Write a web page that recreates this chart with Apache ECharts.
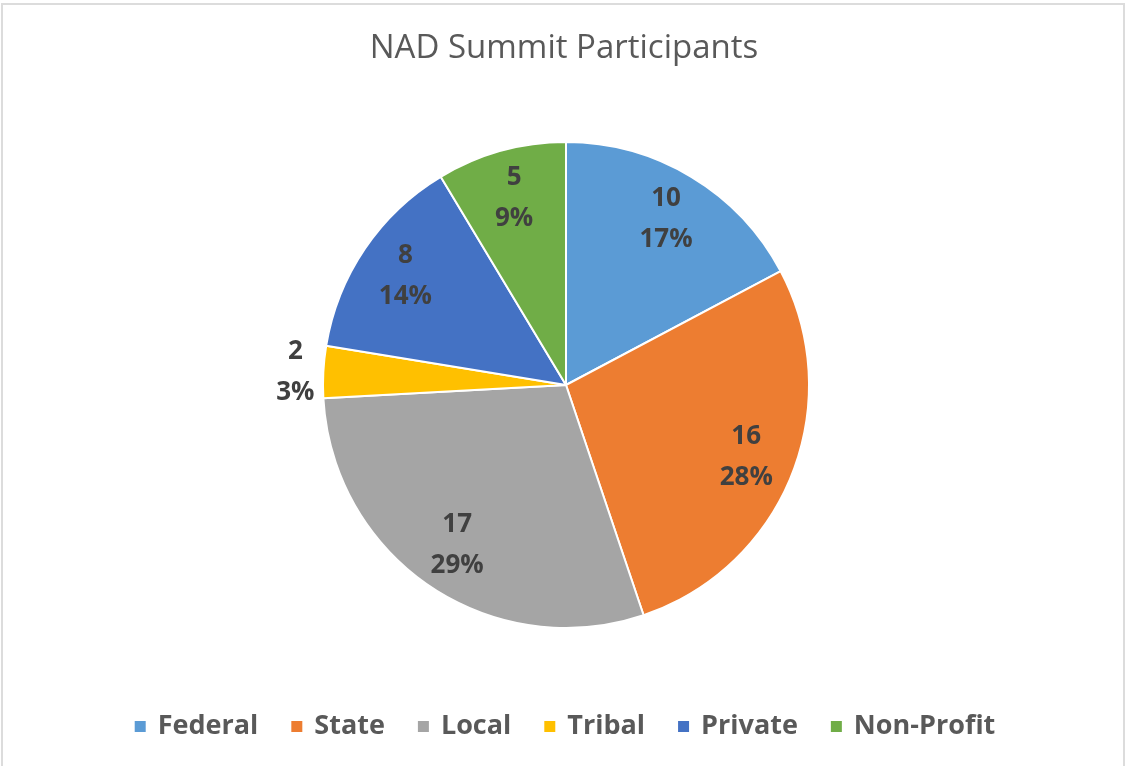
<!DOCTYPE html>
<html>
<head>
<meta charset="utf-8">
<script src="https://cdn.jsdelivr.net/npm/echarts@6/dist/echarts.min.js"></script>
<style>
html,body{margin:0;padding:0;background:#fff;}
#frame{position:absolute;left:1px;top:3px;width:1124px;height:780px;border:2px solid #dcdcdc;box-sizing:border-box;}
#chart{position:absolute;left:0;top:0;width:1128px;height:766px;}
</style>
</head>
<body>
<div id="frame"></div>
<div id="chart"></div>
<script>
const title = 'NAD Summit Participants';
const categories = ['Federal', 'State', 'Local', 'Tribal', 'Private', 'Non-Profit'];
const values = [10, 16, 17, 2, 8, 5];
const colors = ['#5B9BD5', '#ED7D31', '#A5A5A5', '#FFC000', '#4472C4', '#70AD47'];

const total = values.reduce((a, b) => a + b, 0);
const FONT = '"Open Sans", "Noto Sans", sans-serif';

const mainData = categories.map((c, i) => ({
  name: c, value: values[i], itemStyle: { color: colors[i] }
}));

const labelData = categories.map((c, i) => {
  const item = { name: c, value: values[i] };
  if (c === 'Tribal') {
    item.label = {
      position: 'outside',
      formatter: p => '{c|' + p.value + '}\n{c|' + Math.round(p.value / total * 100) + '%}',
      rich: { c: { width: 46, align: 'center', fontSize: 26, fontWeight: 'bold', color: '#404040', fontFamily: FONT, lineHeight: 41 } }
    };
    item.labelLine = { show: false, length: 0, length2: 0 };
  }
  return item;
});

const chart = echarts.init(document.getElementById('chart'), null, { renderer: 'canvas' });
chart.setOption({
  animation: false,
  backgroundColor: 'transparent',
  title: {
    text: title, left: 'center', top: 27,
    textStyle: { fontFamily: FONT, fontSize: 33, fontWeight: 'normal', color: '#595959' }
  },
  legend: {
    data: categories, bottom: 21, left: 'center', icon: 'rect',
    itemWidth: 13, itemHeight: 13, itemGap: 31,
    textStyle: { fontFamily: FONT, fontSize: 27, fontWeight: 'bold', color: '#595959', padding: [0, 0, 0, 6] }
  },
  series: [
    {
      type: 'pie', name: 'main', center: [566, 385], radius: [0, 243],
      startAngle: 90, clockwise: true, avoidLabelOverlap: false,
      itemStyle: { borderColor: '#fff', borderWidth: 2 },
      label: { show: false }, labelLine: { show: false },
      emphasis: { disabled: true },
      data: mainData
    },
    {
      type: 'pie', name: 'labels', center: [566, 385], radius: [139, 243],
      startAngle: 90, clockwise: true, avoidLabelOverlap: false, silent: true,
      itemStyle: { color: 'rgba(0,0,0,0)', borderWidth: 0 },
      label: {
        show: true, position: 'inside',
        formatter: p => p.value + '\n' + Math.round(p.value / total * 100) + '%',
        fontFamily: FONT, fontSize: 26, fontWeight: 'bold', color: '#404040', lineHeight: 41
      },
      labelLine: { show: false },
      emphasis: { disabled: true },
      data: labelData
    }
  ]
});
</script>
</body>
</html>
